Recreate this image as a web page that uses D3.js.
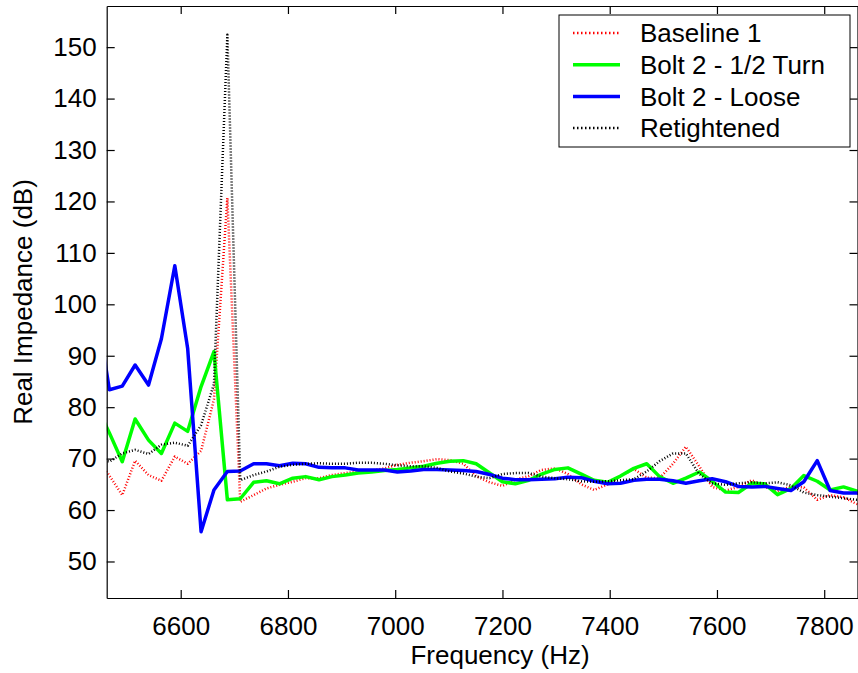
<!DOCTYPE html>
<html>
<head>
<meta charset="utf-8">
<script src="https://cdn.jsdelivr.net/npm/d3@7"></script>
<style>
  html, body { margin: 0; padding: 0; background: #fff; }
  svg { display: block; }
  text { font-family: "Liberation Sans", Arial, Helvetica, sans-serif; fill: #000; }
</style>
</head>
<body>
<svg id="chart" width="858" height="673"></svg>
<script>
// Frequency grid (Hz); first and last points lie just outside the visible axis range
const frequency = [6442, 6467, 6491, 6515, 6540, 6564, 6589, 6613, 6638, 6662,
  6687, 6711, 6736, 6760, 6784, 6809, 6833, 6858, 6882, 6907,
  6931, 6956, 6980, 7004, 7029, 7053, 7078, 7102, 7127, 7151,
  7176, 7200, 7224, 7249, 7273, 7298, 7322, 7347, 7371, 7396,
  7420, 7445, 7469, 7493, 7518, 7542, 7567, 7591, 7616, 7640,
  7665, 7689, 7713, 7738, 7762, 7787, 7811, 7836, 7860, 7885];

// Real impedance (dB) for each test condition
const baseline1 = [70.4, 66.7, 62.9, 69.6, 66.8, 65.7, 70.4, 69.0, 71.5, 81.5,
  120.7, 61.6, 62.9, 64.2, 64.9, 65.5, 66.2, 66.2, 66.8, 67.2,
  67.5, 67.7, 68.1, 68.8, 69.2, 69.5, 69.9, 69.7, 69.0, 66.6,
  65.4, 64.7, 65.9, 66.6, 67.8, 68.1, 67.0, 65.0, 63.9, 65.0,
  66.6, 68.0, 66.3, 66.2, 69.0, 72.3, 68.5, 64.5, 63.8, 64.5,
  65.8, 64.5, 63.7, 64.6, 64.4, 62.0, 62.9, 62.5, 61.2, 60.5];

const bolt2HalfTurn = [80.5, 75.0, 69.4, 77.7, 73.6, 71.0, 76.9, 75.3, 84.0, 90.8,
  62.0, 62.2, 65.4, 65.7, 65.1, 66.2, 66.5, 65.9, 66.5, 66.8,
  67.2, 67.4, 67.7, 67.9, 68.2, 68.5, 69.1, 69.5, 69.6, 69.0,
  67.2, 65.5, 65.1, 65.8, 67.0, 67.9, 68.2, 67.0, 65.8, 65.4,
  66.6, 68.1, 69.0, 66.5, 65.2, 66.2, 67.4, 65.6, 63.5, 63.4,
  65.2, 65.1, 63.0, 64.2, 66.7, 65.6, 63.9, 64.5, 63.7, 63.3];

const bolt2Loose = [100.0, 83.4, 84.1, 88.2, 84.3, 93.3, 107.5, 91.4, 55.8, 63.9,
  67.5, 67.6, 69.0, 69.0, 68.6, 69.1, 69.0, 68.3, 68.2, 68.2,
  67.8, 67.8, 67.8, 67.4, 67.6, 67.9, 67.9, 67.8, 67.7, 67.5,
  66.9, 66.2, 65.9, 65.9, 66.0, 66.1, 66.4, 66.3, 65.6, 65.1,
  65.2, 65.8, 66.0, 66.0, 65.7, 65.2, 65.7, 66.1, 65.5, 64.6,
  64.5, 64.6, 64.2, 63.8, 65.5, 69.6, 63.8, 63.3, 63.3, 63.2];

const retightened = [70.0, 69.4, 71.0, 71.7, 70.9, 72.7, 73.1, 72.5, 76.5, 84.5,
  152.4, 65.8, 66.8, 67.5, 68.4, 68.8, 69.0, 69.1, 69.0, 69.0,
  69.2, 69.2, 69.0, 68.7, 68.5, 68.5, 68.2, 67.5, 67.1, 66.5,
  66.2, 67.0, 67.2, 67.2, 66.5, 66.2, 66.0, 65.6, 65.5, 65.6,
  65.8, 66.0, 67.5, 69.5, 71.0, 71.0, 67.0, 65.2, 64.9, 65.2,
  65.4, 65.2, 65.4, 64.8, 63.4, 62.9, 62.6, 62.3, 62.0, 61.8];

const xTicks = [6600, 6800, 7000, 7200, 7400, 7600, 7800];
const yTicks = [50, 60, 70, 80, 90, 100, 110, 120, 130, 140, 150];
const legendLabels = ["Baseline 1", "Bolt 2 - 1/2 Turn", "Bolt 2 - Loose", "Retightened"];

const series = [
  { name: legendLabels[0], values: baseline1, color: "#ff0000", width: 2.5, dash: "1,2" },
  { name: legendLabels[1], values: bolt2HalfTurn, color: "#00ff00", width: 3.5, dash: null },
  { name: legendLabels[2], values: bolt2Loose, color: "#0000ff", width: 3.5, dash: null },
  { name: legendLabels[3], values: retightened, color: "#000000", width: 2.5, dash: "1,2" }
];

const plot = { left: 106.7, right: 858, top: 6, bottom: 598 };
const svg = d3.select("#chart");

const x = d3.scaleLinear().domain([6462, 7863]).range([plot.left, plot.right]);
const y = d3.scaleLinear().domain([42.9, 158]).range([plot.bottom, plot.top]);

svg.append("defs").append("clipPath").attr("id", "plot-clip")
  .append("rect")
  .attr("x", plot.left).attr("y", plot.top)
  .attr("width", plot.right - plot.left).attr("height", plot.bottom - plot.top);

// Data lines
const line = d3.line()
  .x((d, i) => x(frequency[i]))
  .y(d => y(d));

const lines = svg.append("g").attr("clip-path", "url(#plot-clip)");
series.forEach(s => {
  lines.append("path")
    .datum(s.values)
    .attr("d", line)
    .attr("fill", "none")
    .attr("stroke", s.color)
    .attr("stroke-width", s.width)
    .attr("stroke-linejoin", "round")
    .attr("stroke-dasharray", s.dash);
});

// Axes: ticks point inward on all four sides
const fontSize = 26;
const bottomAxis = d3.axisBottom(x).tickValues(xTicks).tickSizeInner(-8).tickSizeOuter(0).tickPadding(19).tickFormat(d3.format("d"));
const leftAxis = d3.axisLeft(y).tickValues(yTicks).tickSizeInner(-8).tickSizeOuter(0).tickPadding(10).tickFormat(d3.format("d"));
const topAxis = d3.axisTop(x).tickValues(xTicks).tickSizeInner(-8).tickSizeOuter(0).tickFormat("");
const rightAxis = d3.axisRight(y).tickValues(yTicks).tickSizeInner(-8).tickSizeOuter(0).tickFormat("");

function styleAxis(g) {
  g.select(".domain").attr("stroke", "#000").attr("stroke-width", 1.2);
  g.selectAll(".tick line").attr("stroke", "#000").attr("stroke-width", 1.2);
  g.selectAll(".tick text").attr("font-size", fontSize).attr("font-family", "'Liberation Sans', Arial, sans-serif").attr("fill", "#000");
}

svg.append("g").attr("transform", `translate(0,${plot.bottom})`).call(bottomAxis).call(styleAxis);
svg.append("g").attr("transform", `translate(${plot.left},0)`).call(leftAxis).call(styleAxis);
svg.append("g").attr("transform", `translate(0,${plot.top})`).call(topAxis).call(styleAxis);
svg.append("g").attr("transform", `translate(${plot.right - 0.5},0)`).call(rightAxis).call(styleAxis);

// Axis titles
svg.append("text")
  .attr("x", 500)
  .attr("y", 664)
  .attr("text-anchor", "middle")
  .attr("font-size", fontSize)
  .text("Frequency (Hz)");

svg.append("text")
  .attr("transform", `translate(32,${(plot.top + plot.bottom) / 2}) rotate(-90)`)
  .attr("text-anchor", "middle")
  .attr("font-size", fontSize)
  .text("Real Impedance (dB)");

// Legend
const legend = svg.append("g");
legend.append("rect")
  .attr("x", 559).attr("y", 15).attr("width", 291).attr("height", 132)
  .attr("fill", "#fff").attr("stroke", "#000").attr("stroke-width", 1);

series.forEach((s, i) => {
  const cy = 33 + i * 31.7;
  legend.append("line")
    .attr("x1", 573).attr("x2", 620).attr("y1", cy).attr("y2", cy)
    .attr("stroke", s.color)
    .attr("stroke-width", s.dash ? 2.5 : 3.5)
    .attr("stroke-dasharray", s.dash ? "1.5,2.5" : null);
  legend.append("text")
    .attr("x", 640).attr("y", cy)
    .attr("dy", "0.35em")
    .attr("font-size", fontSize)
    .text(s.name);
});
</script>
</body>
</html>
